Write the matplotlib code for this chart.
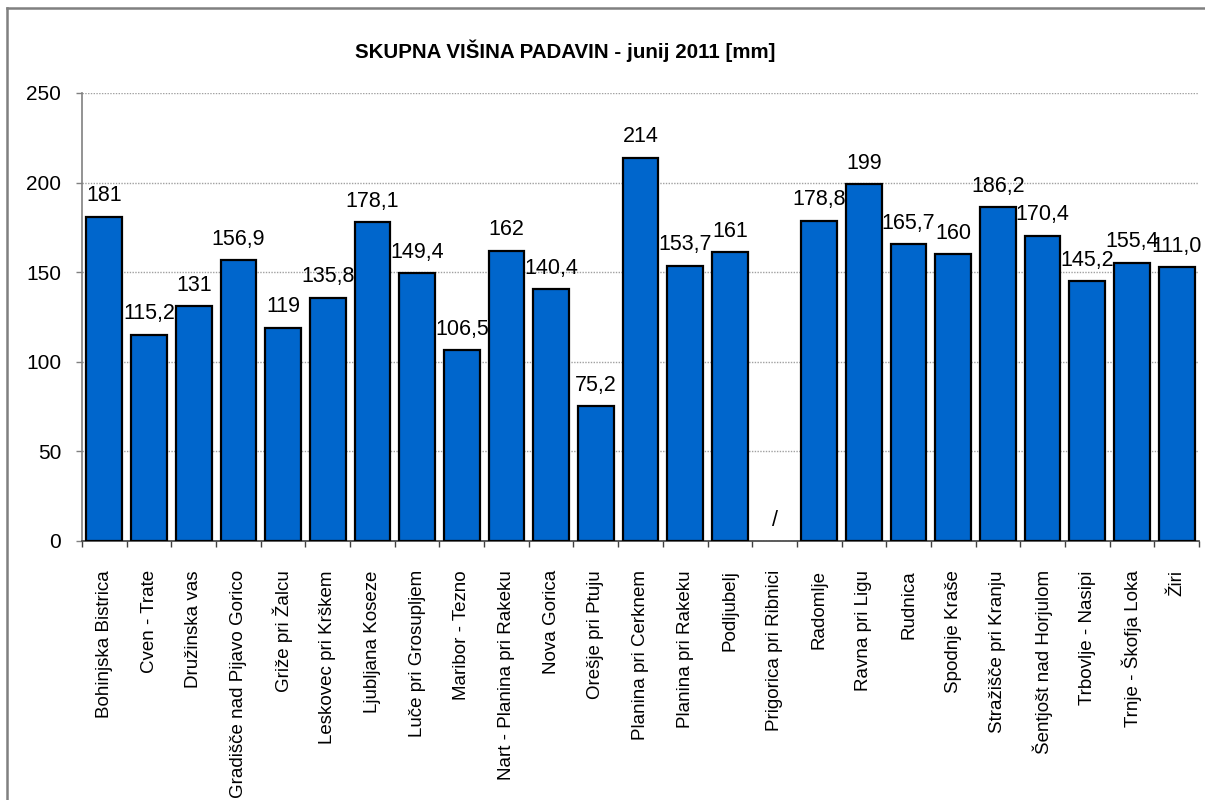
import numpy as np
import matplotlib
matplotlib.use("Agg")
import matplotlib.pyplot as plt
from matplotlib.lines import Line2D

plt.rcParams['font.family'] = ['Liberation Sans', 'DejaVu Sans']

stations = ["Bohinjska Bistrica", "Cven - Trate", "Družinska vas",
            "Gradišče nad Pijavo Gorico", "Griže pri Žalcu", "Leskovec pri Krškem",
            "Ljubljana Koseze", "Luče pri Grosupljem", "Maribor - Tezno",
            "Nart - Planina pri Rakeku", "Nova Gorica", "Orešje pri Ptuju",
            "Planina pri Cerknem", "Planina pri Rakeku", "Podljubelj",
            "Prigorica pri Ribnici", "Radomlje", "Ravna pri Ligu", "Rudnica",
            "Spodnje Kraše", "Stražišče pri Kranju", "Šentjošt nad Horjulom",
            "Trbovlje - Nasipi", "Trnje - Škofja Loka", "Žiri"]
# None = no measurement (shown as "/")
rain = [181, 115.2, 131, 156.9, 119, 135.8, 178.1, 149.4, 106.5, 162, 140.4, 75.2,
        214, 153.7, 161, None, 178.8, 199, 165.7, 160, 186.2, 170.4, 145.2, 155.4, 153]
value_labels = ["181", "115,2", "131", "156,9", "119", "135,8", "178,1", "149,4",
                "106,5", "162", "140,4", "75,2", "214", "153,7", "161", "/", "178,8",
                "199", "165,7", "160", "186,2", "170,4", "145,2", "155,4", "111,0"]
title = "SKUPNA VIŠINA PADAVIN - junij 2011 [mm]"

fig = plt.figure(figsize=(12.05, 8), dpi=100)
W, H = 1205, 800
ax = fig.add_axes([82 / W, 1 - 541 / H, (1199 - 82) / W, (541 - 93) / H])

x = np.arange(len(stations))
heights = np.array([np.nan if v is None else v for v in rain], dtype=float)
ax.bar(x, heights, width=0.8, color="#0066cc", edgecolor="black",
       linewidth=1.6, zorder=3)

for xi, h, lab in zip(x, heights, value_labels):
    y = 0 if np.isnan(h) else h
    ax.annotate(lab, (xi, y), xytext=(0, 11), textcoords="offset points",
                ha="center", va="baseline", fontsize=15.5, zorder=5)

ax.set_xlim(-0.5, len(stations) - 0.5)
ax.set_ylim(0, 250)
ax.set_yticks(np.arange(0, 251, 50))
ax.yaxis.grid(True, color="#a0a0a0", linestyle=(0, (1, 1)), linewidth=1, zorder=0)
ax.set_axisbelow(True)

ax.set_xticks(x)
ax.set_xticklabels(stations, rotation=90, fontsize=13.5, va="top", ha="center")
ax.set_xticks(np.arange(-0.5, len(stations)), minor=True)
ax.tick_params(axis="x", which="major", length=0, pad=21)
ax.tick_params(axis="x", which="minor", length=4, width=1, color="#404040", direction="out")
ax.tick_params(axis="y", length=4, width=1, color="#808080", labelsize=15, pad=11)

for s in ["top", "right"]:
    ax.spines[s].set_visible(False)
ax.spines["left"].set_color("#808080")
ax.spines["left"].set_linewidth(1.2)
ax.spines["bottom"].set_color("#404040")
ax.spines["bottom"].set_linewidth(1.2)

fig.text(565 / W, 1 - 51 / H, title, ha="center", va="center",
         fontsize=14.8, fontweight="bold")

# outer chart frame (only left and top edges fall inside the image)
frame_x = 7 / W
frame_y = 1 - 8 / H
fig.add_artist(Line2D([frame_x, frame_x], [0, frame_y], transform=fig.transFigure,
                      color="#808080", linewidth=1.8))
fig.add_artist(Line2D([frame_x, 1], [frame_y, frame_y], transform=fig.transFigure,
                      color="#808080", linewidth=1.8))

fig.savefig("out.png", dpi=100)
